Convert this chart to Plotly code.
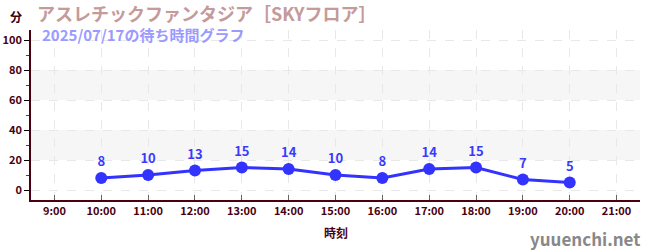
import plotly.graph_objects as go

hours = [10, 11, 12, 13, 14, 15, 16, 17, 18, 19, 20]
waits = [8, 10, 13, 15, 14, 10, 8, 14, 15, 7, 5]
tick_hours = list(range(9, 22))
tick_labels = [f"{h}:00" for h in tick_hours]
y_ticks = [0, 20, 40, 60, 80, 100]
y_labels = [f"<b>{v}</b>" for v in y_ticks]
title_text = "アスレチックファンタジア［SKYフロア］"
subtitle_text = "2025/07/17の待ち時間グラフ"

FONT = "Noto Sans CJK JP"
AX = "#4a0010"

fig = go.Figure()
fig.add_trace(go.Scatter(
    x=hours, y=waits, mode="lines+markers+text",
    text=[str(v) for v in waits], textposition="top center",
    textfont=dict(color="#3a3aff", size=13, family=FONT, weight="bold"),
    line=dict(color="#3333ff", width=3),
    marker=dict(color="#3333ff", size=12),
    cliponaxis=False, hoverinfo="skip",
))

shapes = []
for y0, y1 in [(20, 40), (60, 80)]:
    shapes.append(dict(type="rect", xref="paper", yref="y", x0=0, x1=1, y0=y0, y1=y1,
                       fillcolor="#f6f6f6", line=dict(width=0), layer="below"))

fig.update_layout(
    width=650, height=250,
    margin=dict(l=31, r=10, t=30, b=50),
    plot_bgcolor="white", paper_bgcolor="white",
    showlegend=False,
    shapes=shapes,
    font=dict(family=FONT, color=AX),
    xaxis=dict(
        range=[8.5, 21.5], tickvals=tick_hours, ticktext=tick_labels,
        tickfont=dict(size=11, color=AX, weight="bold"),
        showline=True, linecolor=AX, linewidth=1.5,
        ticks="inside", ticklen=5, tickcolor="#666666",
        showgrid=True, gridcolor="#e8e8e8", griddash="dash", zeroline=False,
        fixedrange=True, automargin=False,
    ),
    yaxis=dict(
        range=[-6.67, 106.67], tickvals=y_ticks, ticktext=y_labels,
        tickfont=dict(size=11, color=AX),
        showline=True, linecolor=AX, linewidth=1.5,
        ticks="outside", ticklen=5, tickcolor="#000000",
        minor=dict(ticks="outside", ticklen=3, tickcolor="#dd0000", dtick=10, tick0=0, showgrid=False),
        showgrid=True, gridcolor="#e8e8e8", griddash="dash", zeroline=False,
        fixedrange=True, automargin=False,
    ),
    annotations=[
        dict(text=title_text, xref="paper", yref="paper", x=0.006, y=1.0, yshift=32,
             xanchor="left", yanchor="top", showarrow=False,
             font=dict(size=18, color="#c49a9a", family=FONT, weight="bold")),
        dict(text=subtitle_text, xref="paper", yref="paper", x=0.015, y=1.0, yshift=8,
             xanchor="left", yanchor="top", showarrow=False,
             font=dict(size=15, color="#9a9aff", family=FONT, weight="bold")),
        dict(text="分", xref="paper", yref="paper", x=0, xshift=-7, y=1.0, yshift=24,
             xanchor="right", yanchor="top", showarrow=False,
             font=dict(size=12, color="#3a0010", family=FONT, weight="bold")),
        dict(text="時刻", xref="paper", yref="paper", x=0.5, y=0, yshift=-22,
             xanchor="center", yanchor="top", showarrow=False,
             font=dict(size=12, color=AX, family=FONT, weight="bold")),
        dict(text="yuuenchi.net", xref="paper", yref="paper", x=1.0, xshift=2, y=0, yshift=-24,
             xanchor="right", yanchor="top", showarrow=False,
             font=dict(size=17, color="#888888", family=FONT, weight="bold")),
    ],
)

fig.write_html("out.html")
